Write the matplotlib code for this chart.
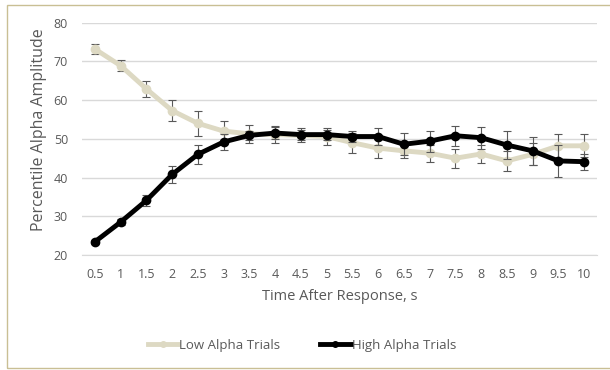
import numpy as np
import matplotlib.pyplot as plt
from matplotlib.lines import Line2D
from matplotlib.patches import Rectangle

plt.rcParams['font.family'] = ['Open Sans', 'DejaVu Sans']

time = [0.5, 1, 1.5, 2, 2.5, 3, 3.5, 4, 4.5, 5, 5.5, 6, 6.5, 7, 7.5, 8, 8.5, 9, 9.5, 10]
tick_labels = ['0.5', '1', '1.5', '2', '2.5', '3', '3.5', '4', '4.5', '5',
               '5.5', '6', '6.5', '7', '7.5', '8', '8.5', '9', '9.5', '10']
low_alpha = [73.2, 68.9, 62.9, 57.3, 54.0, 52.0, 51.3, 51.1, 50.9, 50.6,
             49.0, 47.6, 46.9, 46.3, 45.0, 46.1, 44.3, 46.0, 48.2, 48.2]
low_err = [1.4, 1.5, 2.0, 2.7, 3.3, 2.5, 2.3, 2.2, 1.8, 2.1,
           2.6, 2.5, 1.9, 2.2, 2.5, 2.4, 2.6, 2.8, 3.1, 3.0]
high_alpha = [23.4, 28.5, 34.1, 40.8, 46.0, 49.2, 50.9, 51.5, 51.1, 51.1,
              50.6, 50.6, 48.6, 49.4, 50.8, 50.3, 48.4, 46.9, 44.3, 44.1]
high_err = [0.6, 0.8, 1.5, 2.2, 2.4, 2.0, 1.2, 1.5, 1.3, 1.3,
            1.5, 2.1, 2.8, 2.7, 2.6, 2.8, 3.7, 3.7, 4.1, 2.1]

fig = plt.figure(figsize=(6.1, 3.7), dpi=100)
ax = fig.add_axes([82 / 610, 1 - 255 / 370, 515 / 610, 232.3 / 370])

x = np.arange(len(time))
low_col = '#DDD9C3'
ax.errorbar(x, low_alpha, yerr=low_err, color=low_col, linewidth=3.5, marker='o',
            markersize=6, ecolor='#595959', elinewidth=0.8, capsize=3, capthick=0.8,
            zorder=3)
ax.errorbar(x, high_alpha, yerr=high_err, color='black', linewidth=3.5, marker='o',
            markersize=6, ecolor='#595959', elinewidth=0.8, capsize=3, capthick=0.8,
            zorder=4)

ax.set_xlim(-0.5, len(time) - 0.5)
ax.set_ylim(20, 80)
ax.set_yticks([20, 30, 40, 50, 60, 70, 80])
ax.set_xticks(x)
ax.set_xticklabels(tick_labels)
ax.grid(axis='y', color='#D9D9D9', linewidth=1)
ax.set_axisbelow(True)
for s in ['top', 'right', 'left']:
    ax.spines[s].set_visible(False)
ax.spines['bottom'].set_color('#D9D9D9')
ax.tick_params(length=0, colors='#595959', labelsize=9)
ax.tick_params(axis='x', pad=9)
ax.tick_params(axis='y', pad=10)

ax.set_xlabel('Time After Response, s', fontsize=10.5, color='#595959', labelpad=6)
ax.set_ylabel('Percentile Alpha Amplitude', fontsize=11.5, color='#595959')
ax.yaxis.set_label_coords(47 / 610, 1 - 130 / 370, transform=fig.transFigure)

handles = [Line2D([], [], color=low_col, linewidth=3.5, marker='o', markersize=4),
           Line2D([], [], color='black', linewidth=3.5, marker='o', markersize=4)]
leg = fig.legend(handles, ['Low Alpha Trials', 'High Alpha Trials'], loc='center',
                 bbox_to_anchor=(302 / 610, 1 - 345 / 370), ncol=2, frameon=False,
                 fontsize=9.5, handlelength=2.3, handletextpad=0.1, columnspacing=3.0)
for t in leg.get_texts():
    t.set_color('#595959')

fig.patches.append(Rectangle((6.5 / 610, 2 / 370), 1.0, 1 - 6.5 / 370,
                             transform=fig.transFigure, fill=False,
                             edgecolor='#C9BF94', linewidth=1))

fig.savefig('out.png', dpi=100)
